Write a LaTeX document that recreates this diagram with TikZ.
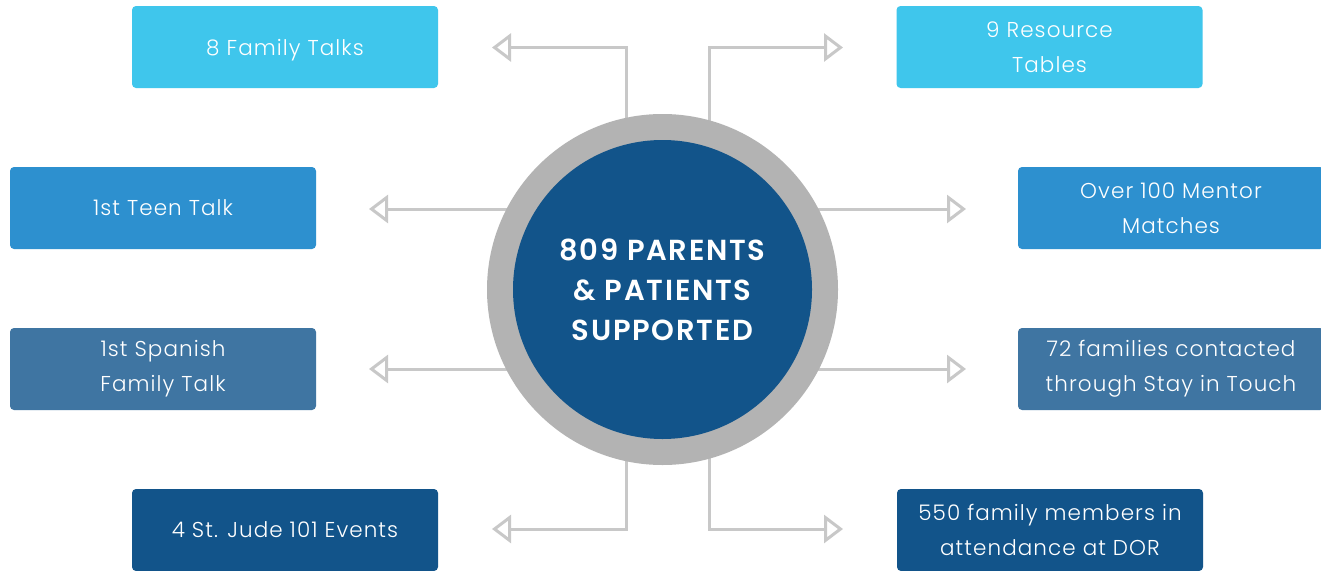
\documentclass[tikz,border=0pt]{standalone}
\usepackage{fontspec}
\setmainfont{Poppins}[UprightFont=* Light, LetterSpace=5]
\newfontfamily\hubfont{Poppins}[UprightFont=* SemiBold, LetterSpace=6]
\usetikzlibrary{arrows.meta,backgrounds}

\definecolor{skyfill}{HTML}{3FC6EC}
\definecolor{midfill}{HTML}{2D90CF}
\definecolor{steelfill}{HTML}{3F75A2}
\definecolor{navyfill}{HTML}{12548A}
\definecolor{ringgray}{HTML}{B3B3B3}
\definecolor{linkgray}{HTML}{C8C8C8}

\tikzset{
  infobox/.style={rounded corners=4pt, minimum width=306pt, minimum height=82pt,
    text=white, align=center, font=\fontsize{21.5}{35}\selectfont, inner sep=0pt},
  oneline/.style={text depth=0pt},
  link/.style={draw=linkgray, line width=3pt,
    -{Triangle[open, length=19pt, width=28pt, line width=3pt]}},
}

\begin{document}
\begin{tikzpicture}[x=1pt, y=-1pt]
  \useasboundingbox (0,0) rectangle (1321,570);
  \clip (0,0) rectangle (1321,570);

  % central hub
  \node[circle, fill=ringgray, minimum size=351pt, inner sep=0pt] (ring) at (662.5,289.5) {};
  \node[circle, fill=navyfill, minimum size=299pt, inner sep=0pt, text=white,
        align=center, font=\hubfont\fontsize{29}{40}\selectfont] (hub) at (662.5,289.5)
        {809 PARENTS\\ \& PATIENTS\\ SUPPORTED};

  % result boxes
  \node[infobox, oneline, fill=skyfill] (famtalks) at (285,47) {8 Family Talks};
  \node[infobox, fill=skyfill]   (restab)   at (1049.5,47) {9 Resource\\Tables};
  \node[infobox, oneline, fill=midfill] (teen) at (163,208) {1st Teen Talk};
  \node[infobox, fill=midfill]   (mentor)   at (1171,208) {Over 100 Mentor\\Matches};
  \node[infobox, fill=steelfill] (spanish)  at (163,369) {1st Spanish\\Family Talk};
  \node[infobox, fill=steelfill] (stay)     at (1171,369) {72 families contacted\\through Stay in Touch};
  \node[infobox, oneline, fill=navyfill] (jude) at (285,530) {4 St. Jude 101 Events};
  \node[infobox, fill=navyfill]  (dor)      at (1050,530) {550 family members in\\attendance at DOR};

  % arrow tips, just short of each box
  \coordinate (tipA) at (492,47.5);
  \coordinate (tipB) at (843,47.5);
  \coordinate (tipC) at (369,209);
  \coordinate (tipD) at (966,209);
  \coordinate (tipE) at (369,369);
  \coordinate (tipF) at (966,369);
  \coordinate (tipG) at (492,529);
  \coordinate (tipH) at (843,529);

  % white page and connectors, both behind the hub
  \begin{pgfonlayer}{background}
    \fill[white] (0,0) rectangle (1321,570);
    \draw[link] ([xshift=-36.5pt]ring.center) |- (tipA);
    \draw[link] ([xshift=46.5pt]ring.center)  |- (tipB);
    \draw[link] (ring.center |- tipC) -- (tipC);
    \draw[link] (ring.center |- tipD) -- (tipD);
    \draw[link] (ring.center |- tipE) -- (tipE);
    \draw[link] (ring.center |- tipF) -- (tipF);
    \draw[link] ([xshift=-36.5pt]ring.center) |- (tipG);
    \draw[link] ([xshift=46.5pt]ring.center)  |- (tipH);
  \end{pgfonlayer}
\end{tikzpicture}
\end{document}
